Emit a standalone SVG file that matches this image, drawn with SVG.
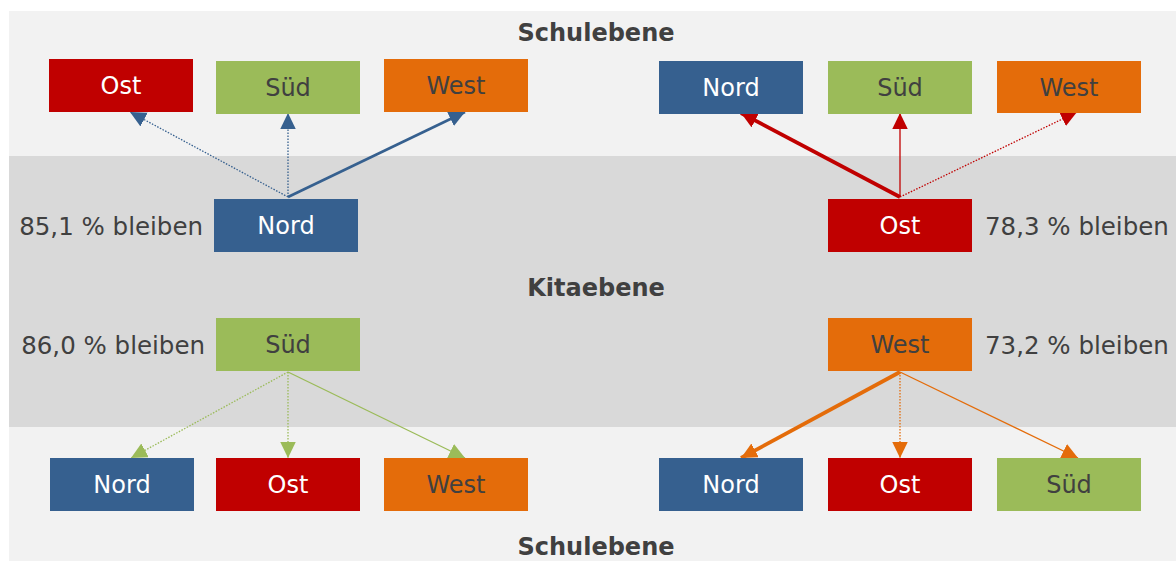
<svg xmlns="http://www.w3.org/2000/svg" width="1176" height="561" viewBox="0 0 1176 561">
<style>
text{font-family:"DejaVu Sans","Verdana",sans-serif;font-size:24px;}
.title{font-weight:bold;fill:#404040;text-anchor:middle;}
.lbl{text-anchor:middle;}
.w{fill:#ffffff;}
.d{fill:#404040;}
.pct{fill:#404040;font-size:24.5px;}
.blue{fill:#36608F;}
.red{fill:#C00000;}
.green{fill:#9BBB59;}
.orange{fill:#E46C0A;}
.ln{fill:none;}
.dot{stroke-width:1.3;stroke-dasharray:1.5 1.5;}
.thin{stroke-width:1.3;}
.mid{stroke-width:2.6;}
.thick{stroke-width:3.8;}
</style>
<defs>
<marker id="aB" markerUnits="userSpaceOnUse" markerWidth="16" markerHeight="16" refX="16" refY="7.75" orient="auto"><path d="M0,0 L16,7.75 L0,15.5 z" fill="#36608F"/></marker>
<marker id="aR" markerUnits="userSpaceOnUse" markerWidth="16" markerHeight="16" refX="16" refY="7.75" orient="auto"><path d="M0,0 L16,7.75 L0,15.5 z" fill="#C00000"/></marker>
<marker id="aG" markerUnits="userSpaceOnUse" markerWidth="16" markerHeight="16" refX="16" refY="7.75" orient="auto"><path d="M0,0 L16,7.75 L0,15.5 z" fill="#9BBB59"/></marker>
<marker id="aO" markerUnits="userSpaceOnUse" markerWidth="16" markerHeight="16" refX="16" refY="7.75" orient="auto"><path d="M0,0 L16,7.75 L0,15.5 z" fill="#E46C0A"/></marker>
</defs>
<g id="background">
<rect x="0" y="0" width="1176" height="561" fill="#ffffff"/>
<rect x="9" y="11" width="1167" height="145" fill="#F2F2F2"/>
<rect x="9" y="156" width="1167" height="271" fill="#D9D9D9"/>
<rect x="9" y="427" width="1167" height="134" fill="#F2F2F2"/>
<text class="title" x="596" y="41">Schulebene</text>
<text class="title" x="596" y="296">Kitaebene</text>
<text class="title" x="596" y="555">Schulebene</text>
</g>
<g id="connectors">
<line class="ln dot" x1="288" y1="197" x2="130" y2="112" stroke="#36608F" marker-end="url(#aB)"/>
<line class="ln dot" x1="288" y1="197" x2="288" y2="113" stroke="#36608F" marker-end="url(#aB)"/>
<line class="ln mid" x1="288" y1="197" x2="465" y2="112" stroke="#36608F" marker-end="url(#aB)"/>
<line class="ln thick" x1="900" y1="197" x2="741" y2="113" stroke="#C00000" marker-end="url(#aR)"/>
<line class="ln thin" x1="900" y1="197" x2="900" y2="113" stroke="#C00000" marker-end="url(#aR)"/>
<line class="ln dot" x1="900" y1="197" x2="1077" y2="112" stroke="#C00000" marker-end="url(#aR)"/>
<line class="ln dot" x1="288" y1="372" x2="131" y2="458" stroke="#9BBB59" marker-end="url(#aG)"/>
<line class="ln dot" x1="288" y1="372" x2="288" y2="458" stroke="#9BBB59" marker-end="url(#aG)"/>
<line class="ln thin" x1="288" y1="372" x2="465" y2="458" stroke="#9BBB59" marker-end="url(#aG)"/>
<line class="ln thick" x1="900" y1="372" x2="741" y2="458" stroke="#E46C0A" marker-end="url(#aO)"/>
<line class="ln dot" x1="900" y1="372" x2="900" y2="458" stroke="#E46C0A" marker-end="url(#aO)"/>
<line class="ln thin" x1="900" y1="372" x2="1078" y2="458" stroke="#E46C0A" marker-end="url(#aO)"/>
</g>
<g id="top-left-ost"><rect class="red" x="49" y="59" width="144" height="53"/><text class="lbl w" x="121" y="94">Ost</text></g>
<g id="top-left-sued"><rect class="green" x="216" y="61" width="144" height="53"/><text class="lbl d" x="288" y="96">Süd</text></g>
<g id="top-left-west"><rect class="orange" x="384" y="59" width="144" height="53"/><text class="lbl d" x="456" y="94">West</text></g>
<g id="top-right-nord"><rect class="blue" x="659" y="61" width="144" height="53"/><text class="lbl w" x="731" y="96">Nord</text></g>
<g id="top-right-sued"><rect class="green" x="828" y="61" width="144" height="53"/><text class="lbl d" x="900" y="96">Süd</text></g>
<g id="top-right-west"><rect class="orange" x="997" y="61" width="144" height="52"/><text class="lbl d" x="1069" y="96">West</text></g>
<g id="kita-nord"><rect class="blue" x="214" y="199" width="144" height="53"/><text class="lbl w" x="286" y="234">Nord</text><text class="pct" x="203" y="235" text-anchor="end">85,1 % bleiben</text></g>
<g id="kita-ost"><rect class="red" x="828" y="199" width="144" height="53"/><text class="lbl w" x="900" y="234">Ost</text><text class="pct" x="985" y="235">78,3 % bleiben</text></g>
<g id="kita-sued"><rect class="green" x="216" y="318" width="144" height="53"/><text class="lbl d" x="288" y="353">Süd</text><text class="pct" x="205" y="354" text-anchor="end">86,0 % bleiben</text></g>
<g id="kita-west"><rect class="orange" x="828" y="318" width="144" height="53"/><text class="lbl d" x="900" y="353">West</text><text class="pct" x="985" y="354">73,2 % bleiben</text></g>
<g id="bottom-left-nord"><rect class="blue" x="50" y="458" width="144" height="53"/><text class="lbl w" x="122" y="493">Nord</text></g>
<g id="bottom-left-ost"><rect class="red" x="216" y="458" width="144" height="53"/><text class="lbl w" x="288" y="493">Ost</text></g>
<g id="bottom-left-west"><rect class="orange" x="384" y="458" width="144" height="53"/><text class="lbl d" x="456" y="493">West</text></g>
<g id="bottom-right-nord"><rect class="blue" x="659" y="458" width="144" height="53"/><text class="lbl w" x="731" y="493">Nord</text></g>
<g id="bottom-right-ost"><rect class="red" x="828" y="458" width="144" height="53"/><text class="lbl w" x="900" y="493">Ost</text></g>
<g id="bottom-right-sued"><rect class="green" x="997" y="458" width="144" height="53"/><text class="lbl d" x="1069" y="493">Süd</text></g>
</svg>
